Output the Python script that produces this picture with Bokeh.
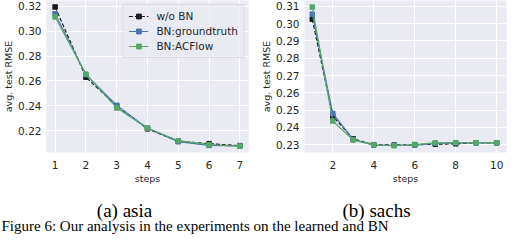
from bokeh.plotting import figure
from bokeh.layouts import column, row
from bokeh.models import FixedTicker, NumeralTickFormatter, Range1d, ColumnDataSource
from bokeh.core.properties import value
from bokeh.embed import file_html
from bokeh.resources import INLINE

# ---- data ----
asia_steps = [1, 2, 3, 4, 5, 6, 7]
asia_wobn = [0.3195, 0.263, 0.2400, 0.2215, 0.2115, 0.2096, 0.2080]
asia_gt = [0.3140, 0.2650, 0.2404, 0.2220, 0.2112, 0.2082, 0.2078]
asia_acf = [0.3115, 0.2655, 0.2383, 0.2222, 0.2120, 0.2088, 0.2075]

sachs_steps = [1, 2, 3, 4, 5, 6, 7, 8, 9, 10]
sachs_wobn = [0.3026, 0.2465, 0.2334, 0.2300, 0.2298, 0.2300, 0.2303, 0.2305, 0.2311, 0.2311]
sachs_gt = [0.3055, 0.2481, 0.2330, 0.2298, 0.2297, 0.2297, 0.2308, 0.2311, 0.2311, 0.2311]
sachs_acf = [0.3096, 0.2437, 0.2327, 0.2299, 0.2294, 0.2301, 0.2311, 0.2312, 0.2312, 0.2312]

series_labels = ["w/o BN", "BN:groundtruth", "BN:ACFlow"]
asia_xticks = [1, 2, 3, 4, 5, 6, 7]
asia_yticks = [0.22, 0.24, 0.26, 0.28, 0.30, 0.32]
sachs_xticks = [2, 4, 6, 8, 10]
sachs_yticks = [0.23, 0.24, 0.25, 0.26, 0.27, 0.28, 0.29, 0.30, 0.31]
captions = ["(a) asia", "(b) sachs"]
figure_caption = "Figure 6:  Our analysis in the experiments on the learned and BN"

COLORS = ["#1a1a1a", "#4C72B0", "#55A868"]
DASHES = ["4 2", "solid", "solid"]
FONT = "DejaVu Sans"
TXT = "#262626"


def make_panel(steps, series, xr, yr, xticks, yticks, width, bl, br, legend):
    p = figure(width=width, height=186, output_backend="svg", toolbar_location=None,
               x_range=Range1d(*xr), y_range=Range1d(*yr),
               min_border_left=bl, min_border_right=br, min_border_top=0, min_border_bottom=34)
    p.background_fill_color = "#EAEAF2"
    p.border_fill_color = "white"
    p.outline_line_color = None
    for ax in (p.xaxis, p.yaxis):
        ax.axis_line_color = None
        ax.major_tick_line_color = None
        ax.minor_tick_line_color = None
        ax.major_tick_out = 0
        ax.major_tick_in = 0
        ax.minor_tick_out = 0
        ax.minor_tick_in = 0
        ax.major_label_text_font = FONT
        ax.major_label_text_font_size = "10.5px"
        ax.major_label_text_color = TXT
        ax.axis_label_text_font = FONT
        ax.axis_label_text_font_size = "9.5px"
        ax.axis_label_text_font_style = "normal"
        ax.axis_label_text_color = TXT
    p.xaxis.ticker = FixedTicker(ticks=xticks)
    p.yaxis.ticker = FixedTicker(ticks=yticks)
    p.yaxis.formatter = NumeralTickFormatter(format="0.00")
    p.xaxis.axis_label = "steps"
    p.yaxis.axis_label = "avg. test RMSE"
    p.xaxis.major_label_standoff = 8
    p.yaxis.major_label_standoff = 5
    p.xaxis.axis_label_standoff = 1
    p.yaxis.axis_label_standoff = 1
    p.xgrid.grid_line_color = "white"
    p.ygrid.grid_line_color = "white"
    p.xgrid.grid_line_width = 1.1
    p.ygrid.grid_line_width = 1.1
    for ys, lab, c, d in zip(series, series_labels, COLORS, DASHES):
        src = ColumnDataSource(dict(x=steps, y=ys))
        if legend:
            p.line("x", "y", source=src, line_color=c, line_width=1.2, line_dash=d, legend_label=lab)
            p.scatter("x", "y", source=src, marker="square", size=4.5, fill_color=c, line_color=c,
                      legend_label=lab)
        else:
            p.line("x", "y", source=src, line_color=c, line_width=1.2, line_dash=d)
            p.scatter("x", "y", source=src, marker="square", size=4.5, fill_color=c, line_color=c)
    if legend:
        lg = p.legend[0]
        lg.location = "top_right"
        lg.background_fill_color = "#EAEAF2"
        lg.background_fill_alpha = 0.8
        lg.border_line_color = "#cccccc"
        lg.border_line_width = 1
        lg.label_text_font = FONT
        lg.label_text_font_size = "10.5px"
        lg.label_text_color = TXT
        lg.glyph_width = 20
        lg.glyph_height = 12
        lg.label_height = 12
        lg.spacing = 3
        lg.padding = 5
        lg.margin = 4
        lg.label_standoff = 8
    return p


p1 = make_panel(asia_steps, [asia_wobn, asia_gt, asia_acf], (0.72, 7.28), (0.2025, 0.3247),
                asia_xticks, asia_yticks, 256, 40, 8, True)
p2 = make_panel(sachs_steps, [sachs_wobn, sachs_gt, sachs_acf], (0.62, 10.48), (0.2255, 0.3134),
                sachs_xticks, sachs_yticks, 256, 48, 6, False)

cap = figure(width=512, height=48, output_backend="svg", toolbar_location=None,
             x_range=Range1d(0, 512), y_range=Range1d(48, 0),
             min_border=0)
cap.axis.visible = False
cap.grid.visible = False
cap.outline_line_color = None
cap.background_fill_color = "white"
cap.border_fill_color = "white"
cap.text(x=[124, 376], y=[24, 24], text=captions, text_font=value("Liberation Serif"),
         text_font_size="19px", text_align="center", text_baseline="middle", text_color="black")
cap.text(x=[1], y=[39], text=[figure_caption],
         text_font=value("Liberation Serif"), text_font_size="15px", text_align="left",
         text_baseline="middle", text_color="black")

layout = column(row(p1, p2), cap)
open("out.html", "w").write(file_html(layout, INLINE))
